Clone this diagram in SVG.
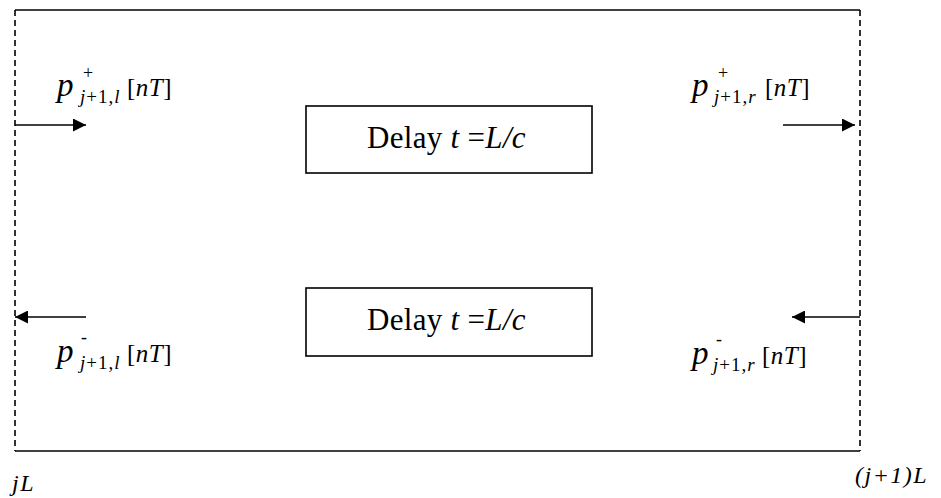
<svg xmlns="http://www.w3.org/2000/svg" width="941" height="498" viewBox="0 0 941 498">
  <defs>
    <marker id="head" viewBox="0 0 10 10" refX="10" refY="5" markerWidth="16" markerHeight="13" markerUnits="userSpaceOnUse" orient="auto">
      <path d="M0,0 L10,5 L0,10 Z" fill="#000"/>
    </marker>
    <style>
      .solid { stroke: #000; stroke-width: 1.6; fill: none; }
      .dash { stroke: #000; stroke-width: 1.6; fill: none; stroke-dasharray: 6 4; }
      .arrow { stroke: #000; stroke-width: 1.6; fill: none; marker-end: url(#head); }
      .box { stroke: #000; stroke-width: 1.6; fill: #fff; }
      text { font-family: "Liberation Serif", "Times New Roman", serif; fill: #000; }
      .lbl { font-size: 31px; letter-spacing: 0.3px; }
      .it { font-style: italic; }
      .p { font-size: 33px; font-style: italic; }
      .sub { font-size: 19px; letter-spacing: 1px; }
      .sup { font-size: 18px; }
      .br { font-size: 25px; letter-spacing: 0.5px; }
      .pos { font-size: 24px; font-style: italic; letter-spacing: 1.5px; }
    </style>
  </defs>

  <!-- segment frame: solid top/bottom, dashed ends -->
  <g id="frame">
    <line class="solid" x1="15" y1="10" x2="860" y2="10"/>
    <line class="solid" x1="15" y1="451" x2="860" y2="451"/>
    <line class="dash" x1="15" y1="10" x2="15" y2="451"/>
    <line class="dash" x1="860" y1="10" x2="860" y2="451"/>
  </g>

  <g id="delay-forward">
    <rect class="box" x="306" y="106" width="286" height="67"/>
    <text class="lbl" x="367" y="148">Delay <tspan class="it">t</tspan> =<tspan class="it">L/c</tspan></text>
  </g>

  <g id="delay-backward">
    <rect class="box" x="306" y="288" width="286" height="68"/>
    <text class="lbl" x="367" y="330">Delay <tspan class="it">t</tspan> =<tspan class="it">L/c</tspan></text>
  </g>

  <g id="connectors">
    <line class="arrow" x1="15" y1="125" x2="86" y2="125"/>
    <line class="arrow" x1="783" y1="125" x2="855" y2="125"/>
    <line class="arrow" x1="86" y1="317" x2="15" y2="317"/>
    <line class="arrow" x1="860" y1="317" x2="792" y2="317"/>
  </g>

  <g id="label-in-left">
    <text class="p" x="57" y="96">p</text>
    <text class="sup" x="83" y="79">+</text>
    <text class="sub" x="80" y="103"><tspan class="it">j</tspan>+1,<tspan class="it">l</tspan></text>
    <text class="br" x="127" y="96">[<tspan class="it">nT</tspan>]</text>
  </g>

  <g id="label-out-right">
    <text class="p" x="692" y="96">p</text>
    <text class="sup" x="718" y="79">+</text>
    <text class="sub" x="714" y="103"><tspan class="it">j</tspan>+1,<tspan class="it">r</tspan></text>
    <text class="br" x="765" y="96">[<tspan class="it">nT</tspan>]</text>
  </g>

  <g id="label-out-left">
    <text class="p" x="57" y="362">p</text>
    <text class="sup" x="81" y="343">-</text>
    <text class="sub" x="80" y="369"><tspan class="it">j</tspan>+1,<tspan class="it">l</tspan></text>
    <text class="br" x="127" y="362">[<tspan class="it">nT</tspan>]</text>
  </g>

  <g id="label-in-right">
    <text class="p" x="692" y="364">p</text>
    <text class="sup" x="716" y="345">-</text>
    <text class="sub" x="713" y="371"><tspan class="it">j</tspan>+1,<tspan class="it">r</tspan></text>
    <text class="br" x="762" y="364">[<tspan class="it">nT</tspan>]</text>
  </g>

  <g id="positions">
    <text class="pos" x="12" y="491">jL</text>
    <text class="pos" x="855" y="483">(j+1)L</text>
  </g>
</svg>
